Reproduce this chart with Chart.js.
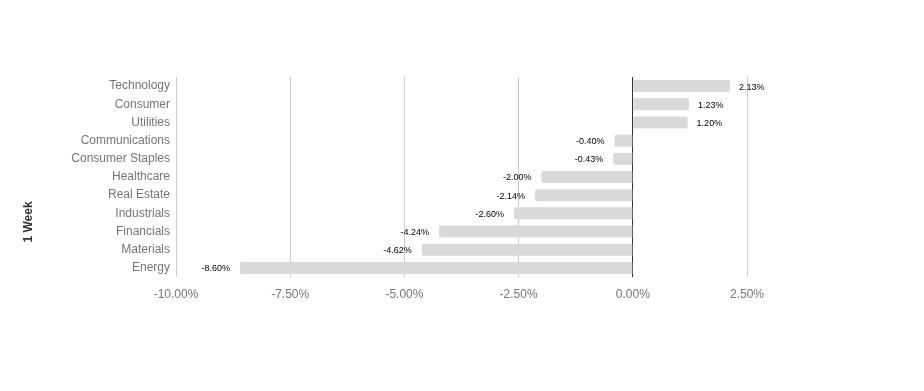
<!DOCTYPE html>
<html lang="en">
<head>
    <meta charset="UTF-8">
    <title>1 Week Sector Performance</title>
    <style>
        body { margin: 0; background: #fff; }
        .chart-container { width: 924px; height: 391px; }
    </style>
</head>
<body>
    <div class="chart-container">
        <canvas id="sectorChart" width="924" height="391"></canvas>
    </div>

    <script src="https://cdn.jsdelivr.net/npm/chart.js"></script>
    <script>
        // Sector names and 1 week returns (%)
        const sectors = ['Technology', 'Consumer', 'Utilities', 'Communications', 'Consumer Staples',
            'Healthcare', 'Real Estate', 'Industrials', 'Financials', 'Materials', 'Energy'];
        const weekReturns = [2.13, 1.23, 1.20, -0.40, -0.43, -2.00, -2.14, -2.60, -4.24, -4.62, -8.60];
        const axisTitle = '1 Week';

        // Draws the value next to each bar end
        const valueLabels = {
            id: 'valueLabels',
            afterDatasetsDraw(chart) {
                const ctx = chart.ctx;
                const meta = chart.getDatasetMeta(0);
                ctx.save();
                ctx.font = '9px Arial';
                ctx.fillStyle = '#000';
                ctx.textBaseline = 'middle';
                meta.data.forEach((bar, i) => {
                    const v = weekReturns[i];
                    const text = v.toFixed(2) + '%';
                    if (v >= 0) {
                        ctx.textAlign = 'left';
                        ctx.fillText(text, bar.x + 9, bar.y + 1);
                    } else {
                        ctx.textAlign = 'right';
                        ctx.fillText(text, bar.x - 10, bar.y + 1);
                    }
                });
                ctx.restore();
            }
        };

        // Rotated axis title on the left
        const sideTitle = {
            id: 'sideTitle',
            afterDraw(chart) {
                const ctx = chart.ctx;
                ctx.save();
                ctx.translate(29, chart.chartArea.bottom - 55);
                ctx.rotate(-Math.PI / 2);
                ctx.font = 'bold 12px Arial';
                ctx.fillStyle = '#333';
                ctx.textAlign = 'center';
                ctx.textBaseline = 'middle';
                ctx.fillText(axisTitle, 0, 0);
                ctx.restore();
            }
        };

        const ctx = document.getElementById('sectorChart').getContext('2d');
        new Chart(ctx, {
            type: 'bar',
            data: {
                labels: sectors,
                datasets: [{
                    label: axisTitle,
                    data: weekReturns,
                    backgroundColor: '#d9d9d9',
                    borderRadius: 2,
                    borderSkipped: 'start',
                    barPercentage: 0.66,
                    categoryPercentage: 1
                }]
            },
            options: {
                indexAxis: 'y',
                responsive: false,
                animation: false,
                layout: { padding: { top: 77, right: 177, bottom: 0, left: 0 } },
                plugins: {
                    legend: { display: false },
                    tooltip: { enabled: false }
                },
                scales: {
                    x: {
                        min: -10,
                        max: 2.5,
                        afterFit: (scale) => { scale.height = 114; },
                        border: { display: false },
                        grid: {
                            drawTicks: false,
                            color: (c) => c.tick && c.tick.value === 0 ? '#333' : '#cccccc'
                        },
                        ticks: {
                            stepSize: 2.5,
                            padding: 10,
                            color: '#757575',
                            font: { family: 'Arial', size: 12 },
                            callback: (v) => v.toFixed(2) + '%'
                        }
                    },
                    y: {
                        afterFit: (scale) => { scale.width = 176; },
                        border: { display: false },
                        grid: { display: false, drawTicks: false },
                        ticks: {
                            padding: 6,
                            color: '#757575',
                            font: { family: 'Arial', size: 12 }
                        }
                    }
                }
            },
            plugins: [valueLabels, sideTitle]
        });
    </script>
</body>
</html>
